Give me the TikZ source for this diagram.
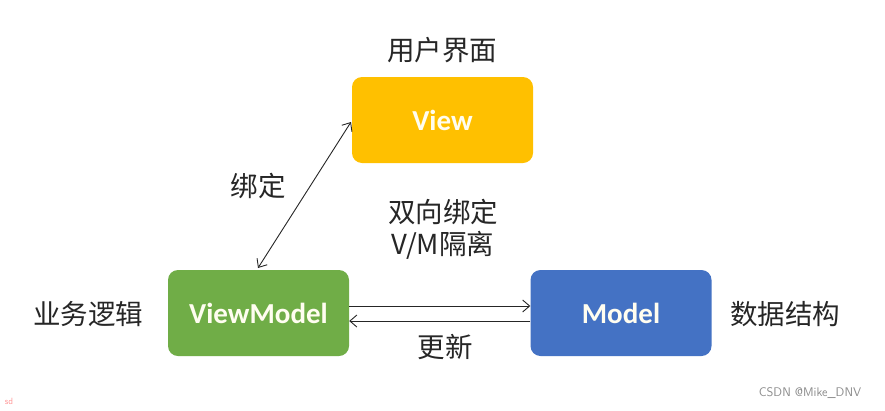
\documentclass[tikz,border=0pt]{standalone}
\usepackage{fontspec}
\setmainfont{Carlito}
\newfontfamily\cjk{Noto Sans CJK SC}
\newfontfamily\boxfont{Carlito}
\usetikzlibrary{arrows.meta}
\definecolor{viewc}{HTML}{FFC000}
\definecolor{vmc}{HTML}{70AD47}
\definecolor{modelc}{HTML}{4472C4}
\definecolor{linec}{HTML}{262626}
\definecolor{boxtext}{HTML}{FFFDF0}
\begin{document}
\begin{tikzpicture}[x=1pt,y=-1pt,
  boxst/.style={rounded corners=10pt, minimum width=181pt, minimum height=86pt, inner sep=0pt,
    text=boxtext, font=\boxfont\bfseries\fontsize{29}{32}\selectfont},
  lbl/.style={inner sep=0pt, text=black!85, font=\cjk\fontsize{27.5}{31}\selectfont},
  conn/.style={draw=linec, line width=0.9pt, -{Straight Barb[length=7pt,width=12pt,line width=0.9pt]}},
  conn2/.style={draw=linec, line width=0.9pt, {Straight Barb[length=7pt,width=12pt,line width=0.9pt]}-{Straight Barb[length=7pt,width=12pt,line width=0.9pt]}}
]
\useasboundingbox (0,0) rectangle (885,410);
\fill[white] (0,0) rectangle (885,410);

\node[boxst, fill=viewc] (view) at (442.5,120) {View};
\node[boxst, fill=vmc] (vm) at (258.5,313) {ViewModel};
\node[boxst, fill=modelc] (model) at (621,313) {Model};

\node[lbl] (ui) at (442,50) {用户界面};
\node[lbl] (bind) at (258,186) {绑定};
\node[lbl] (two) at (443,212) {双向绑定};
\node[lbl] (iso) at (443,245) {V/M隔离};
\node[lbl] (biz) at (88,314) {业务逻辑};
\node[lbl] (data) at (785,314) {数据结构};
\node[lbl] (upd) at (445,347) {更新};

\node[inner sep=0pt, text=black!45, font=\fontsize{12.5}{14}\selectfont\sffamily] (csdn) at (810,393) {CSDN @Mike\_DNV};
\node[inner sep=0pt, text=red!40, font=\fontsize{9}{10}\selectfont\sffamily] (sd) at (9,401) {sd};

\coordinate (vmtop) at (258,268);
\coordinate (viewleft) at (351,122);
\draw[conn2] (vmtop) -- (viewleft);

\draw[conn] (vm.east |- 0,306) -- (model.west |- 0,306);
\draw[conn] (model.west |- 0,321) -- (vm.east |- 0,321);
\end{tikzpicture}
\end{document}
